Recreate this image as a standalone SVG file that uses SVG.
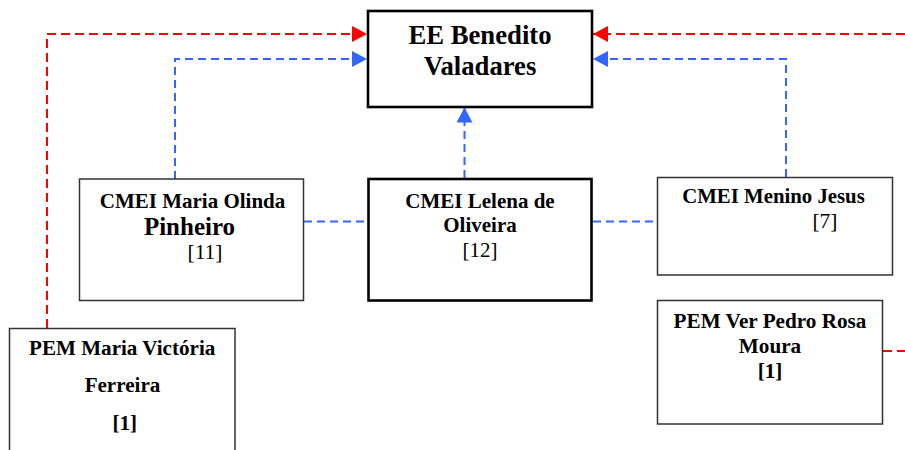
<svg xmlns="http://www.w3.org/2000/svg" width="905" height="450" viewBox="0 0 905 450">
  <defs>
    <marker id="arrRed" markerUnits="userSpaceOnUse" markerWidth="15" markerHeight="16" viewBox="0 0 15 16" refX="15" refY="8" orient="auto">
      <path d="M0,0 L15,8 L0,16 Z" fill="#FF0000"/>
    </marker>
    <marker id="arrBlue" markerUnits="userSpaceOnUse" markerWidth="15" markerHeight="16" viewBox="0 0 15 16" refX="15" refY="8" orient="auto">
      <path d="M0,0 L15,8 L0,16 Z" fill="#3366FF"/>
    </marker>
  </defs>
  <style>
    .box { fill: #FFFFFF; stroke: #333333; stroke-width: 1.5; }
    .thick { fill: #FFFFFF; stroke: #000000; stroke-width: 2.6; }
    .t { font-family: "Liberation Serif", "Times New Roman", serif; fill: #000000; }
    .b { font-weight: bold; }
    .red { fill: none; stroke: #FF0000; stroke-width: 2; stroke-dasharray: 9 5; }
    .blue { fill: none; stroke: #3366FF; stroke-width: 2; stroke-dasharray: 8 5; }
  </style>
  <rect width="905" height="450" fill="#FFFFFF"/>

  <g id="connectors">
    <path class="red" d="M47,328 V34 H367" marker-end="url(#arrRed)"/>
    <path class="red" d="M905,34 H593" marker-end="url(#arrRed)"/>
    <path class="red" d="M883,351 H905"/>
    <path class="blue" d="M175,179 V59 H367" marker-end="url(#arrBlue)"/>
    <path class="blue" d="M786,177 V59 H593" marker-end="url(#arrBlue)"/>
    <path class="blue" d="M464.5,178 V107.5" marker-end="url(#arrBlue)"/>
    <path class="blue" d="M304,221.5 H367"/>
    <path class="blue" d="M593,221.5 H657"/>
  </g>

  <g id="ee-benedito-valadares">
    <rect class="thick" x="368" y="11" width="224" height="96"/>
    <text class="t b" x="480" y="43.5" font-size="26.7" text-anchor="middle">EE Benedito</text>
    <text class="t b" x="480" y="75" font-size="26.7" text-anchor="middle">Valadares</text>
  </g>

  <g id="cmei-maria-olinda">
    <rect class="box" x="79.5" y="179" width="224" height="121.5"/>
    <text class="t b" x="192.5" y="207.5" font-size="21" text-anchor="middle">CMEI Maria Olinda</text>
    <text class="t b" x="189.5" y="234.5" font-size="25" text-anchor="middle">Pinheiro</text>
    <text class="t" x="205" y="258.5" font-size="21.5" text-anchor="middle">[11]</text>
  </g>

  <g id="cmei-lelena">
    <rect class="thick" x="368.5" y="179" width="223" height="121.5"/>
    <text class="t b" x="480" y="207.7" font-size="21" text-anchor="middle">CMEI Lelena de</text>
    <text class="t b" x="480" y="231.7" font-size="21" text-anchor="middle">Oliveira</text>
    <text class="t" x="480" y="256.7" font-size="21" text-anchor="middle">[12]</text>
  </g>

  <g id="cmei-menino-jesus">
    <rect class="box" x="657.5" y="177.5" width="235" height="97.5"/>
    <text class="t b" x="773.5" y="203" font-size="20.8" text-anchor="middle">CMEI Menino Jesus</text>
    <text class="t" x="825" y="227.5" font-size="21.5" text-anchor="middle">[7]</text>
  </g>

  <g id="pem-ver-pedro-rosa-moura">
    <rect class="box" x="657.5" y="300.5" width="225" height="123.5"/>
    <text class="t b" x="770" y="328.3" font-size="21.2" text-anchor="middle">PEM Ver Pedro Rosa</text>
    <text class="t b" x="770" y="352.7" font-size="21.2" text-anchor="middle">Moura</text>
    <text class="t b" x="770" y="378.3" font-size="21.2" text-anchor="middle">[1]</text>
  </g>

  <g id="pem-maria-victoria-ferreira">
    <rect class="box" x="9.5" y="328.5" width="225.5" height="130"/>
    <text class="t b" x="122.2" y="355" font-size="21.1" text-anchor="middle">PEM Maria Victória</text>
    <text class="t b" x="122.5" y="391.7" font-size="21.1" text-anchor="middle">Ferreira</text>
    <text class="t b" x="124.7" y="430" font-size="21.1" text-anchor="middle">[1]</text>
  </g>
</svg>
